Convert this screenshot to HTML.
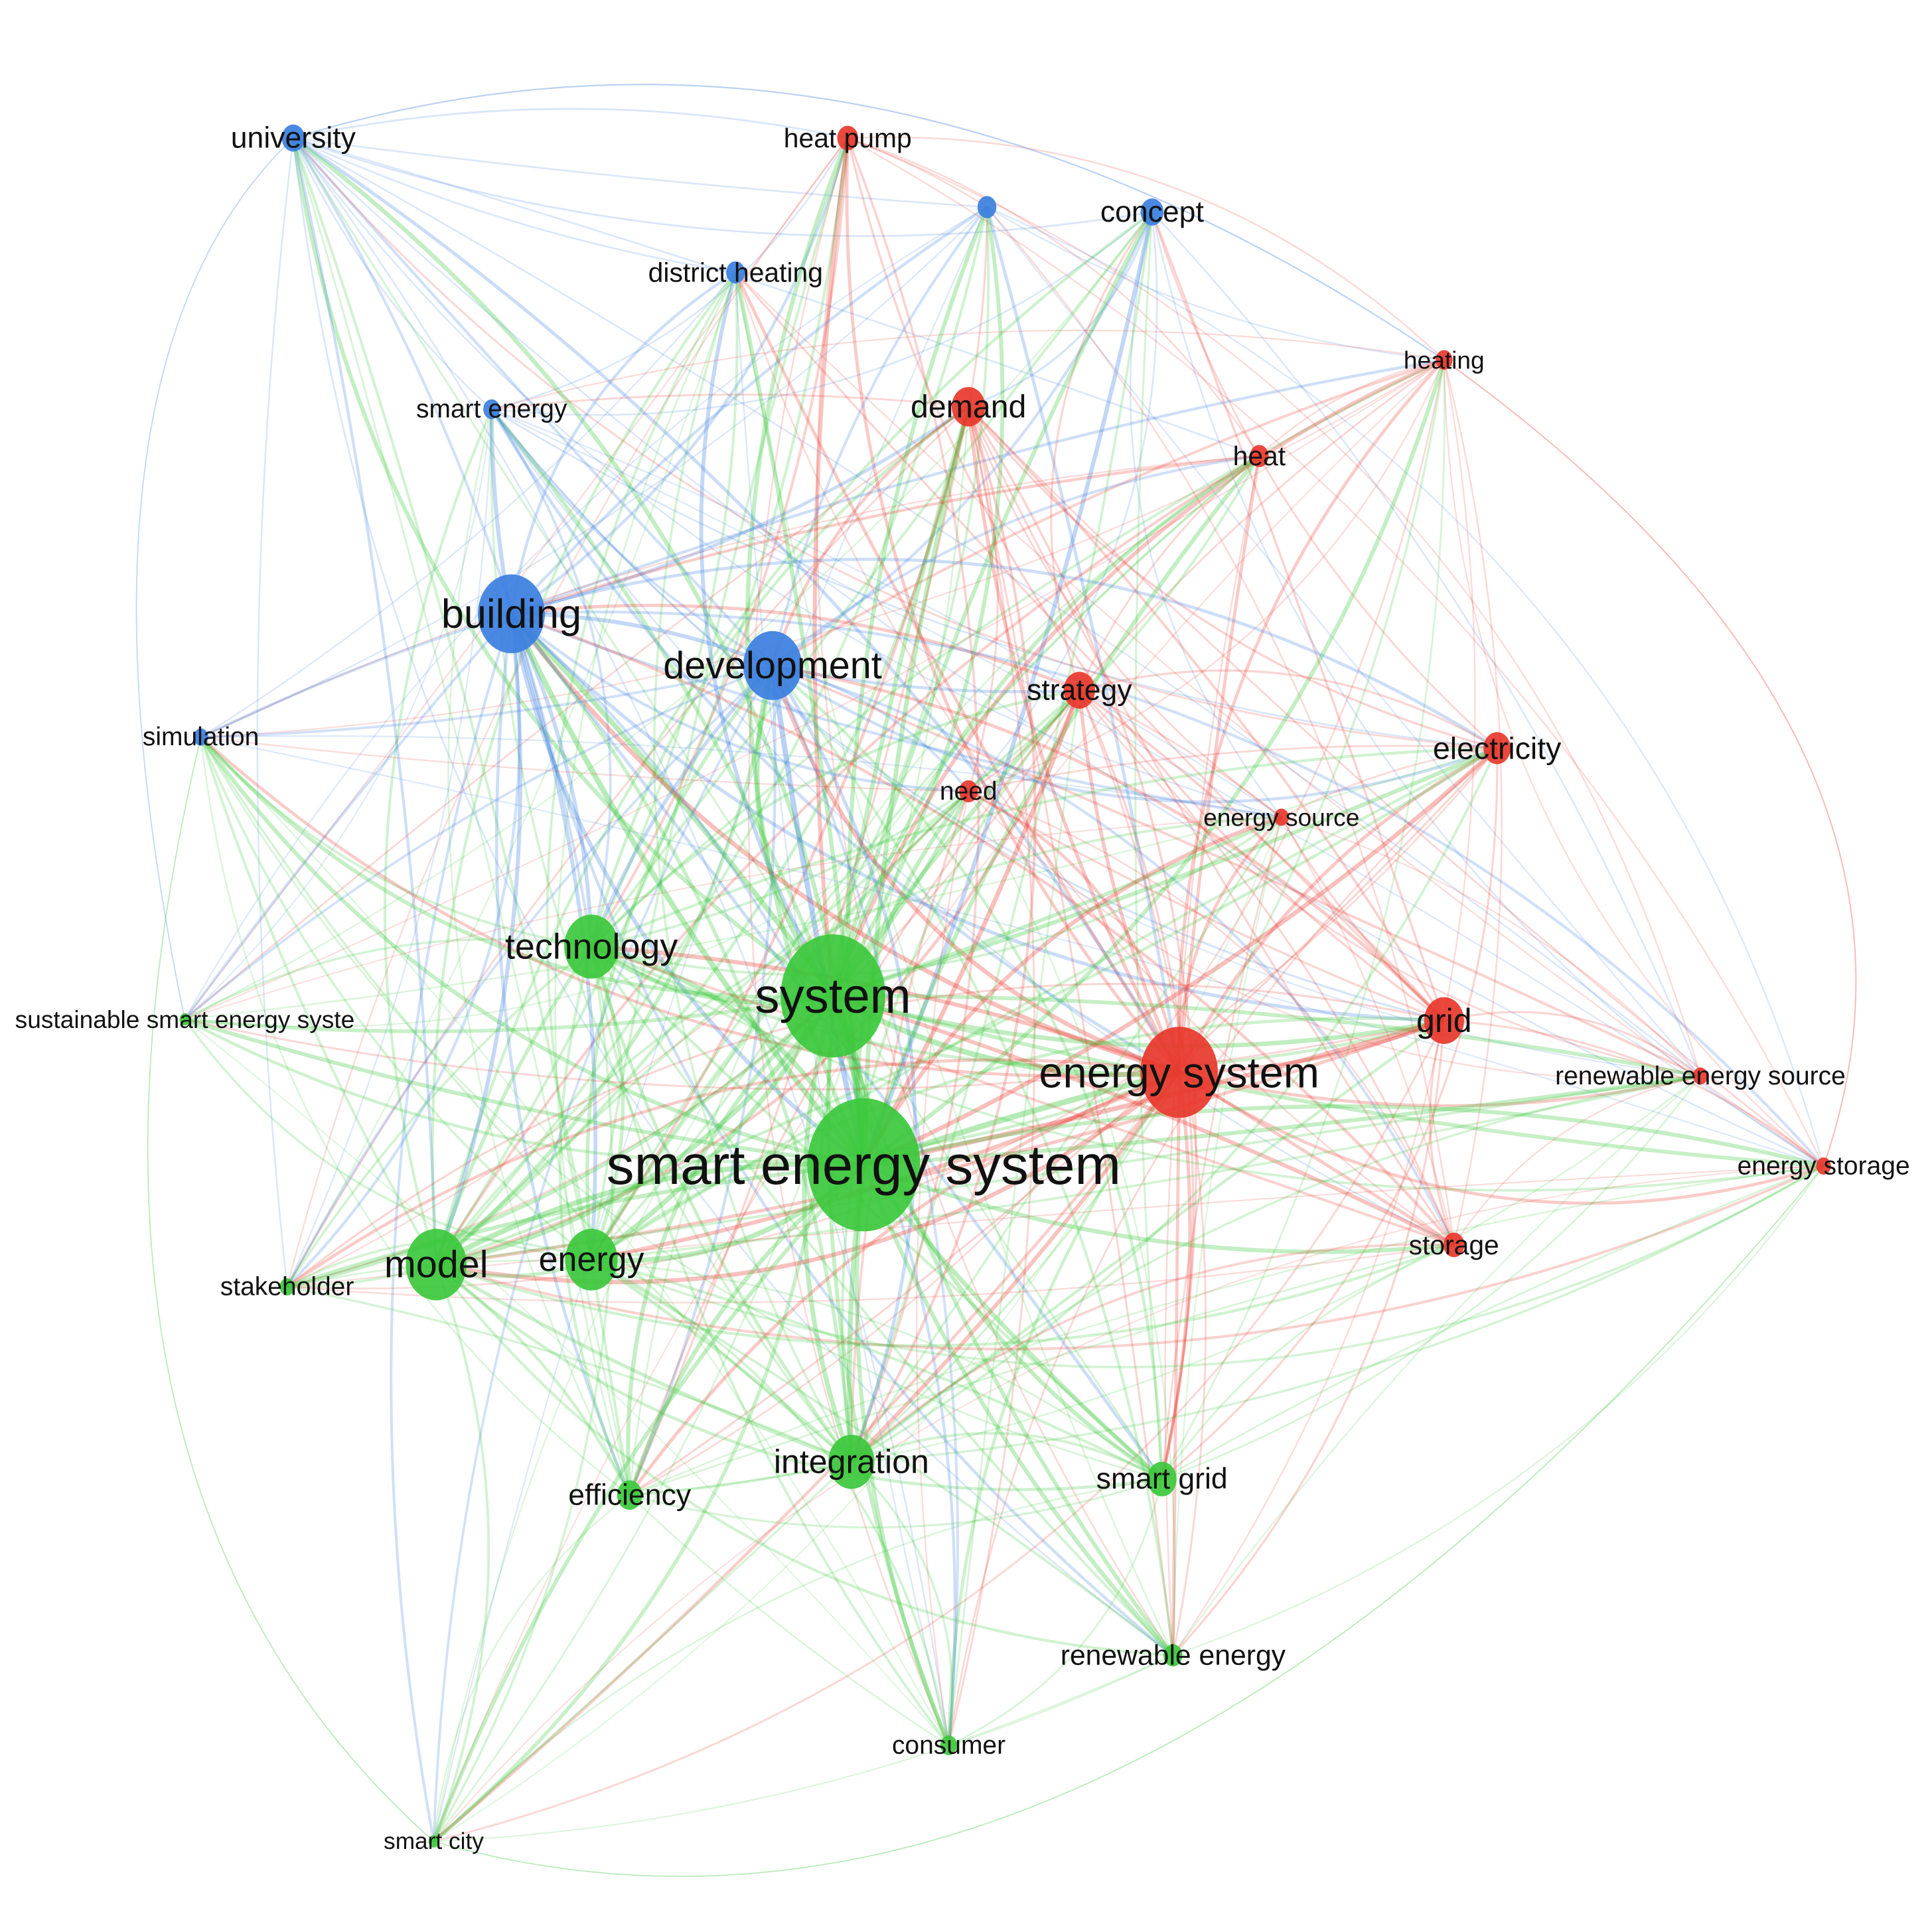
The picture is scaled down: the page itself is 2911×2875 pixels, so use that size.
<!DOCTYPE html>
<html><head><meta charset="utf-8"><style>
html,body{margin:0;padding:0;background:#fff;}
svg{display:block;}
text{font-family:"Liberation Sans","DejaVu Sans",sans-serif;fill:#111;text-anchor:middle;dominant-baseline:central;}
</style></head><body>
<svg id="s" width="2911" height="2875" viewBox="0 0 1568 1548" preserveAspectRatio="none" xmlns="http://www.w3.org/2000/svg">
<g id="edges" fill="none"></g><g id="nodes"></g><g id="labels"></g>
</svg>
<script>
var B="#3b7fe0",R="#e8372c",G="#3cc83c";
var N=[
["university",238,112,11,B,24],["heat pump",688,112,10,R,22],["",801,168,9,B,0],["concept",935,172,11,B,24],
["district heating",597,221,9,B,22],["heating",1172,292,8,R,20],["smart energy",399,332,8,B,21],["demand",786,330,16,R,26],
["heat",1022,370,9,R,22],["building",415,498,32,B,33],["development",627,540,28,B,31],["simulation",163,598,7,B,21],
["strategy",876,560,15,R,24],["electricity",1215,607,13,R,25],["need",786,642,9,R,21],["energy source",1040,663,7,R,20],
["technology",480,768,26,G,29],["system",676,808,50,G,40],["sustainable smart energy syste",150,827,5,G,20],["grid",1172,828,19,R,27],
["energy system",957,870,37,R,35],["renewable energy source",1380,873,7,R,21],["smart energy system",701,945,54,G,45],["energy storage",1480,946,7,R,21],
["storage",1180,1010,10,R,22],["model",354,1026,29,G,31],["energy",480,1022,25,G,28],["stakeholder",233,1044,7,G,21],
["efficiency",511,1213,12,G,24],["integration",691,1186,22,G,27],["smart grid",943,1200,14,G,24],["renewable energy",952,1343,9,G,23],
["consumer",770,1416,8,G,21],["smart city",352,1494,5,G,19]];
var ns="http://www.w3.org/2000/svg";
function el(t,a,p){var e=document.createElementNS(ns,t);for(var k in a)e.setAttribute(k,a[k]);p.appendChild(e);return e;}
var E=document.getElementById("edges"),ND=document.getElementById("nodes"),L=document.getElementById("labels");
var seed=7;function rnd(){seed=(seed*16807)%2147483647;return seed/2147483647;}
for(var i=0;i<N.length;i++)for(var j=i+1;j<N.length;j++){
 var a=N[i],b=N[j];var w=(a[3]+b[3]);
 if(rnd()>0.35+w/80)continue;
 var c=(a[3]>=b[3])?a[4]:b[4];
 if(rnd()<0.2)c=(c==a[4])?b[4]:a[4];
 var dx=b[1]-a[1],dy=b[2]-a[2],len=Math.sqrt(dx*dx+dy*dy);
 var off=(rnd()-0.5)*0.5*len;
 var mx=(a[1]+b[1])/2-dy/len*off,my=(a[2]+b[2])/2+dx/len*off;
 var sw=Math.min(5,0.5+w/22);
 el("path",{d:"M"+a[1]+","+a[2]+"Q"+mx.toFixed(1)+","+my.toFixed(1)+" "+b[1]+","+b[2],stroke:c,"stroke-width":sw.toFixed(2),"stroke-opacity":(0.14+w/380).toFixed(2)},E);
}
el("path",{d:"M238,112 Q700,-30 1172,292",stroke:B,"stroke-width":1.2,"stroke-opacity":0.35},E);
el("path",{d:"M163,598 Q20,1200 352,1494",stroke:G,"stroke-width":1,"stroke-opacity":0.35},E);
el("path",{d:"M352,1494 Q900,1650 1480,946",stroke:G,"stroke-width":1,"stroke-opacity":0.35},E);
el("path",{d:"M1172,292 Q1600,600 1480,946",stroke:R,"stroke-width":1,"stroke-opacity":0.35},E);
el("path",{d:"M238,112 Q40,300 150,827",stroke:B,"stroke-width":1,"stroke-opacity":0.3},E);
N.forEach(function(n){
 el("ellipse",{cx:n[1],cy:n[2],rx:n[3]*0.85,ry:n[3],fill:n[4],"fill-opacity":0.92},ND);
 if(n[0]){var t=el("text",{x:n[1],y:n[2],"font-size":n[5]},L);t.textContent=n[0];}
});
</script>
</body></html>
